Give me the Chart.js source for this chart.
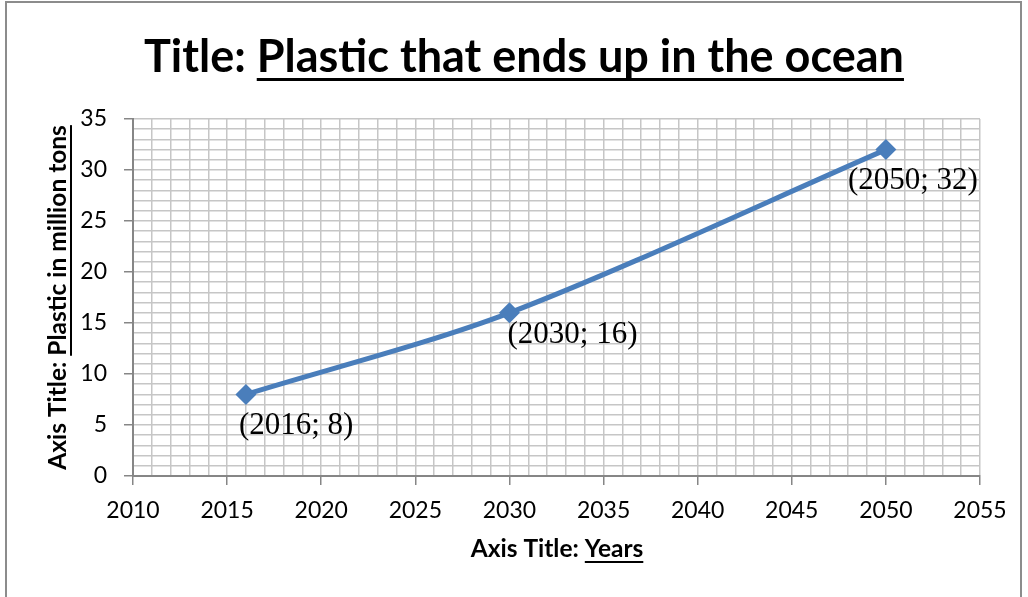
<!DOCTYPE html>
<html>
<head>
<meta charset="utf-8">
<script src="https://cdn.jsdelivr.net/npm/chart.js@4"></script>
<style>
  body { margin: 0; background: #fff; }
  #wrap { width: 1028px; height: 597px; position: relative; }
</style>
</head>
<body>
<div id="wrap"><canvas id="plasticChart"></canvas></div>
<script>
const years = [2016, 2030, 2050];
const plastic = [8, 16, 32];
const pointLabels = ['(2016; 8)', '(2030; 16)', '(2050; 32)'];
const xTickLabels = [2010, 2015, 2020, 2025, 2030, 2035, 2040, 2045, 2050, 2055];
const yTickLabels = [0, 5, 10, 15, 20, 25, 30, 35];

const blue = '#4a7ebb';
const axisGray = '#868686';
const gridGray = '#c6c6c6';

// draws a line of text where some parts are underlined, centred on x
function drawParts(ctx, x, y, parts, font, lineW, lineOff) {
    ctx.font = font;
    const total = parts.reduce((s, p) => s + ctx.measureText(p.text).width, 0);
    let cx = x - total / 2;
    ctx.textAlign = 'left';
    ctx.textBaseline = 'alphabetic';
    ctx.fillStyle = '#000';
    parts.forEach(p => {
        const w = ctx.measureText(p.text).width;
        ctx.fillText(p.text, cx, y);
        if (p.underline) {
            ctx.fillRect(cx, y + lineOff, w, lineW);
        }
        cx += w;
    });
}

const decorPlugin = {
    id: 'decor',
    afterDraw(chart, args, opts) {
        const ctx = chart.ctx;
        const xs = chart.scales.x, ys = chart.scales.y;
        ctx.save();

        // outer frame
        ctx.strokeStyle = '#8c8c8c';
        ctx.lineWidth = 2;
        ctx.strokeRect(6, 2, 1015, 700);

        // title
        drawParts(ctx, 524, 72, [
            { text: 'Title: ' },
            { text: 'Plastic that ends up in the ocean', underline: true }
        ], 'bold 45px Lato', 3, 6);

        // x axis title
        drawParts(ctx, 557, 557, [
            { text: 'Axis Title: ' },
            { text: 'Years', underline: true }
        ], 'bold 24.5px Lato', 2, 4);

        // y axis title (rotated)
        ctx.save();
        ctx.translate(66, (ys.top + ys.bottom) / 2 - 0);
        ctx.rotate(-Math.PI / 2);
        drawParts(ctx, 0, 0, [
            { text: 'Axis Title: ' },
            { text: 'Plastic in million tons', underline: true }
        ], 'bold 24.5px Lato', 2, 4);
        ctx.restore();

        // point labels
        ctx.font = '31px "Liberation Serif"';
        ctx.fillStyle = '#000';
        ctx.textAlign = 'left';
        ctx.textBaseline = 'middle';
        years.forEach((yr, i) => {
            const px = xs.getPixelForValue(yr);
            const py = ys.getPixelForValue(plastic[i]);
            const off = opts.offsets[i];
            ctx.fillText(pointLabels[i], px + off[0], py + off[1]);
        });
        ctx.restore();
    }
};

const majorTick = (ctx, list) => (ctx.tick && list.includes(ctx.tick.value)) ? axisGray : 'rgba(0,0,0,0)';

new Chart(document.getElementById('plasticChart'), {
    type: 'scatter',
    data: {
        datasets: [{
            label: 'Plastic',
            data: years.map((yr, i) => ({ x: yr, y: plastic[i] })),
            showLine: true,
            tension: 0.3,
            borderColor: blue,
            borderWidth: 5,
            pointStyle: 'rectRot',
            pointRadius: 10.5,
            pointHoverRadius: 10.5,
            pointBackgroundColor: blue,
            pointBorderColor: blue,
            pointBorderWidth: 0
        }]
    },
    options: {
        responsive: true,
        maintainAspectRatio: false,
        animation: false,
        layout: { padding: { left: 0, right: 48, top: 119, bottom: 0 } },
        plugins: {
            legend: { display: false },
            title: { display: false },
            tooltip: { enabled: false },
            decor: { offsets: [[-7, 31], [-2, 22], [-38, 31]] }
        },
        scales: {
            x: {
                type: 'linear',
                min: xTickLabels[0],
                max: xTickLabels[xTickLabels.length - 1],
                afterFit: s => { s.height = 121; },
                ticks: {
                    stepSize: 1,
                    autoSkip: false,
                    maxRotation: 0,
                    padding: 12,
                    color: '#000',
                    font: { family: 'Lato', size: 23 },
                    callback: v => xTickLabels.includes(v) ? String(v) : ''
                },
                grid: {
                    color: gridGray,
                    lineWidth: 1.5,
                    tickLength: 9,
                    tickColor: ctx => majorTick(ctx, xTickLabels),
                    tickWidth: 1.5
                },
                border: { color: axisGray, width: 2 }
            },
            y: {
                min: yTickLabels[0],
                max: yTickLabels[yTickLabels.length - 1],
                afterFit: s => { s.width = 133; },
                ticks: {
                    stepSize: 1,
                    autoSkip: false,
                    padding: 17,
                    color: '#000',
                    font: { family: 'Lato', size: 23 },
                    callback: v => yTickLabels.includes(v) ? String(v) : ''
                },
                grid: {
                    color: gridGray,
                    lineWidth: 1.5,
                    tickLength: 9,
                    tickColor: ctx => majorTick(ctx, yTickLabels),
                    tickWidth: 1.5
                },
                border: { color: axisGray, width: 2 }
            }
        }
    },
    plugins: [decorPlugin]
});
</script>
</body>
</html>
